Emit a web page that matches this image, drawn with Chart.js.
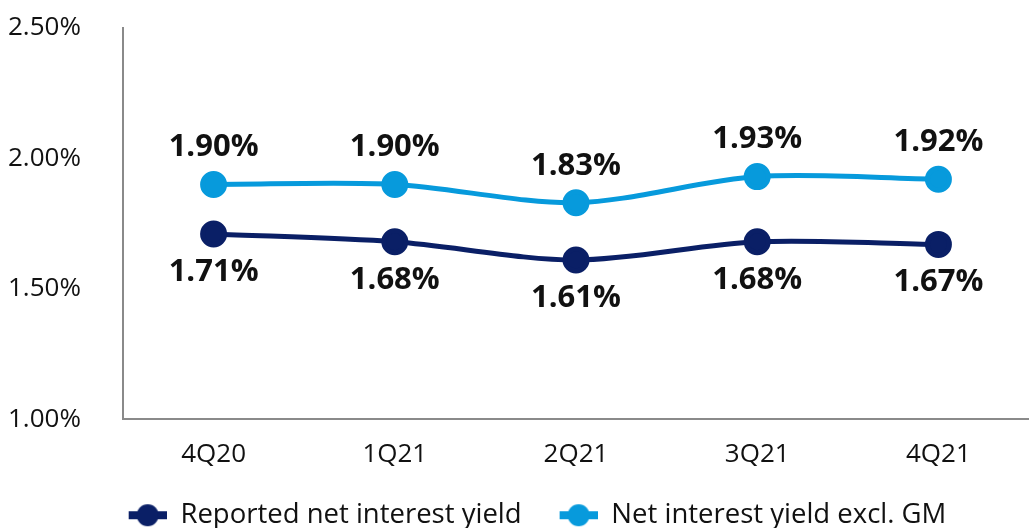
<!DOCTYPE html>
<html>
<head>
<meta charset="utf-8">
<script src="https://cdn.jsdelivr.net/npm/chart.js@4.4.1/dist/chart.umd.min.js"></script>
<style>
    html, body { margin: 0; padding: 0; background: #fff; }
    #wrap { width: 1029px; height: 528px; position: relative; }
</style>
</head>
<body>
<div id="wrap"><canvas id="chart"></canvas></div>
<script>
const quarters = ['4Q20', '1Q21', '2Q21', '3Q21', '4Q21'];
const reportedYield = [1.71, 1.68, 1.61, 1.68, 1.67];
const exclGmYield = [1.90, 1.90, 1.83, 1.93, 1.92];
const yTicks = [1.00, 1.50, 2.00, 2.50];

const navy = '#0A1F66';
const lightBlue = '#079ADC';
const fontFamily = '"Open Sans", "Noto Sans", sans-serif';

// legend marker: short line with a dot on it, blank space on the left works as item gap
function legendMarker(color) {
    const c = document.createElement('canvas');
    c.width = 76;
    c.height = 24;
    const g = c.getContext('2d');
    g.fillStyle = color;
    g.fillRect(38, 8, 38, 8);
    g.beginPath();
    g.arc(57, 12, 11, 0, Math.PI * 2);
    g.fill();
    return c;
}

// values written above (top series) or below (bottom series) each point
const valueLabels = {
    id: 'valueLabels',
    afterDatasetsDraw(chart) {
        const ctx = chart.ctx;
        ctx.save();
        ctx.font = 'bold 31px ' + fontFamily;
        ctx.fillStyle = '#111';
        ctx.textAlign = 'center';
        ctx.textBaseline = 'middle';
        chart.data.datasets.forEach((ds, i) => {
            const meta = chart.getDatasetMeta(i);
            const shift = ds.labelPos === 'above' ? -37 : 38;
            meta.data.forEach((pt, j) => {
                ctx.fillText(ds.data[j].toFixed(2) + '%', pt.x, pt.y + shift);
            });
        });
        ctx.restore();
    }
};

new Chart(document.getElementById('chart'), {
    type: 'line',
    data: {
        labels: quarters,
        datasets: [{
                label: 'Reported net interest yield',
                data: reportedYield,
                borderColor: navy,
                backgroundColor: navy,
                borderWidth: 5,
                pointRadius: 11,
                pointHoverRadius: 11,
                tension: 0.3,
                labelPos: 'below',
                legendImg: legendMarker(navy)
            }, {
                label: 'Net interest yield excl. GM',
                data: exclGmYield,
                borderColor: lightBlue,
                backgroundColor: lightBlue,
                borderWidth: 5,
                pointRadius: 11,
                pointHoverRadius: 11,
                tension: 0.3,
                labelPos: 'above',
                legendImg: legendMarker(lightBlue)
            }]
    },
    options: {
        responsive: true,
        maintainAspectRatio: false,
        animation: false,
        layout: {
            autoPadding: false,
            padding: {top: 28, left: 8, right: 0, bottom: -11}
        },
        plugins: {
            tooltip: {enabled: false},
            legend: {
                position: 'bottom',
                // empty title only pushes the legend row down a bit
                title: {
                    display: true,
                    text: ' ',
                    font: {size: 1},
                    padding: {top: 10, bottom: 0}
                },
                labels: {
                    usePointStyle: true,
                    pointStyleWidth: 76,
                    color: '#111',
                    font: {size: 27.5, family: fontFamily},
                    padding: 0,
                    generateLabels(chart) {
                        return chart.data.datasets.map((ds, i) => ({
                            text: ds.label,
                            pointStyle: ds.legendImg,
                            fontColor: '#111',
                            lineWidth: 0,
                            datasetIndex: i
                        }));
                    }
                }
            }
        },
        scales: {
            x: {
                offset: true,
                grid: {display: false, drawTicks: false, offset: false},
                border: {display: true, color: '#8a8a8a', width: 2},
                ticks: {
                    color: '#111',
                    font: {size: 26, family: fontFamily},
                    padding: 20
                },
                afterFit(scale) {
                    scale.paddingLeft = 0;
                    scale.paddingRight = 0;
                }
            },
            y: {
                min: yTicks[0],
                max: yTicks[yTicks.length - 1],
                grid: {display: false, drawTicks: false},
                border: {display: true, color: '#8a8a8a', width: 2},
                afterBuildTicks(axis) {
                    axis.ticks = yTicks.map(v => ({value: v}));
                },
                afterFit(scale) {
                    scale.width = 115;
                },
                ticks: {
                    color: '#111',
                    crossAlign: 'far',
                    padding: 0,
                    font: {size: 26, family: fontFamily},
                    callback: v => v.toFixed(2) + '%'
                }
            }
        }
    },
    plugins: [valueLabels]
});
</script>
</body>
</html>
